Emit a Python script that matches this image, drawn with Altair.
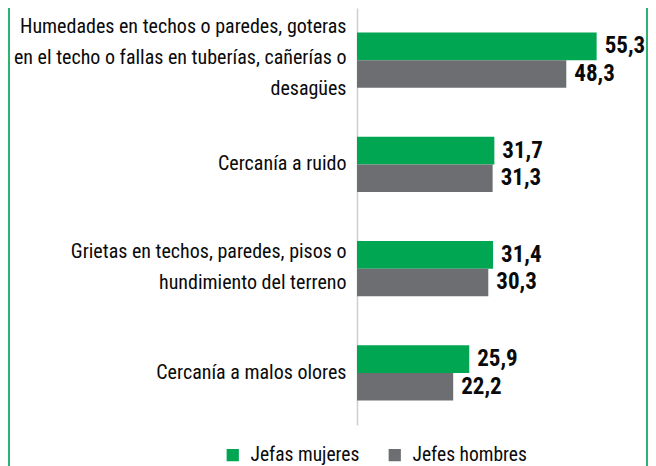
import altair as alt
import pandas as pd

categories = [
    "Humedades en techos o paredes, goteras|en el techo o fallas en tuberías, cañerías o|desagües",
    "Cercanía a ruido",
    "Grietas en techos, paredes, pisos o|hundimiento del terreno",
    "Cercanía a malos olores",
]
series = ["Jefas mujeres", "Jefes hombres"]
mujeres = [55.3, 31.7, 31.4, 25.9]
hombres = [48.3, 31.3, 30.3, 22.2]
colors = ["#00A651", "#6D6E71"]

rows = []
for c, m, h in zip(categories, mujeres, hombres):
    rows.append({"cat": c, "serie": series[0], "v": m})
    rows.append({"cat": c, "serie": series[1], "v": h})
df = pd.DataFrame(rows)

FONT = "Roboto Condensed, DejaVu Sans Condensed, sans-serif"
LH = 31

y = alt.Y(
    "cat:N",
    sort=categories,
    scale=alt.Scale(paddingInner=0.47, paddingOuter=0.235),
    axis=alt.Axis(
        title=None,
        labelExpr="split(datum.label, '|')",
        labelFont=FONT,
        labelFontSize=20,
        labelColor="#0A0A0A",
        labelLimit=400,
        labelLineHeight=LH,
        labelPadding=11,
        labelOffset={
            "condition": [
                {"test": "length(split(datum.value, '|')) == 3", "value": -LH - 2},
                {"test": "length(split(datum.value, '|')) == 2", "value": -LH / 2 - 1},
            ],
            "value": 0,
        },
        ticks=False,
        domainColor="#CFCFCF",
        domainWidth=1.5,
        grid=False,
    ),
)
x = alt.X("v:Q", scale=alt.Scale(domain=[0, 60]), axis=None)
yoff = alt.YOffset("serie:N", sort=series, scale=alt.Scale(paddingInner=0, paddingOuter=0))

base = alt.Chart(df).encode(y=y, yOffset=yoff)

bars = base.mark_bar().encode(
    x=x,
    color=alt.Color(
        "serie:N",
        sort=series,
        scale=alt.Scale(domain=series, range=colors),
        legend=alt.Legend(
            title=None,
            orient="none",
            legendX=-134,
            legendY=437,
            direction="horizontal",
            symbolType="square",
            symbolSize=150,
            symbolStrokeWidth=0,
            symbolOpacity=1,
            labelFont=FONT,
            labelFontSize=19.5,
            labelColor="#0A0A0A",
            labelOffset=8,
            columnPadding=25,
            padding=0,
        ),
    ),
)

text = base.mark_text(
    align="left", baseline="middle", dx=8, font=FONT, fontSize=23, fontWeight="bold", color="#0A0A0A"
).transform_calculate(
    lab="replace(format(datum.v, '.1f'), '.', ',')"
).encode(x=x, text="lab:N")

frame_data = alt.Data(values=[{"k": 1}])
left_line = alt.Chart(frame_data).mark_rule(color="#2DB36F", strokeWidth=2).encode(
    x=alt.value(-348), y=alt.value(0), y2=alt.value(458)
)
right_line = alt.Chart(frame_data).mark_rule(color="#2DB36F", strokeWidth=2).encode(
    x=alt.value(290), y=alt.value(0), y2=alt.value(458)
)

chart = (
    alt.layer(bars, text, left_line, right_line)
    .properties(
        width=260,
        height=417,
        background="white",
        autosize=alt.AutoSizeParams(type="none"),
        padding={"left": 349, "top": 0, "right": 31, "bottom": 41},
    )
    .configure_view(strokeWidth=0, stroke="transparent")
)

chart.save("out.html", embed_options={"renderer": "svg", "actions": False})
